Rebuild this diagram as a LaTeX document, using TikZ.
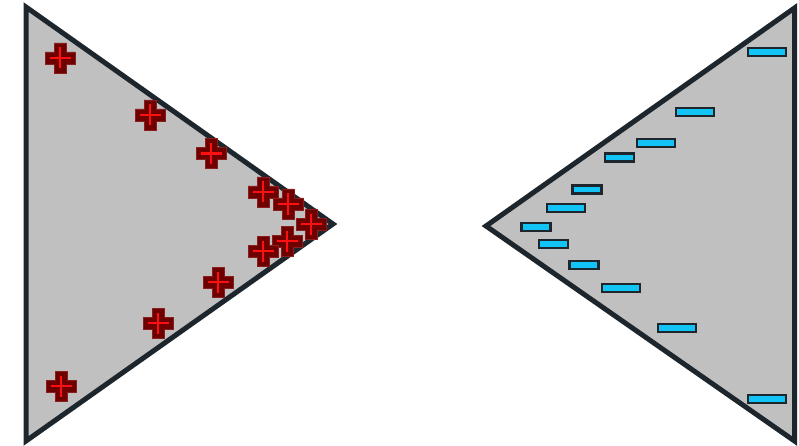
\documentclass[tikz,border=0pt]{standalone}
\usetikzlibrary{calc}
\definecolor{edgedark}{HTML}{1E262D}
\definecolor{trifill}{HTML}{C0C0C0}
\definecolor{crossfill}{HTML}{6E0000}
\definecolor{crossedge}{HTML}{8A1E1E}
\definecolor{crossline}{HTML}{FF1010}
\definecolor{barfill}{HTML}{12C3F5}
\tikzset{
  tri/.style={draw=edgedark, fill=trifill, line width=5pt, line join=miter},
  pics/crossmark/.style={code={
    \fill[crossfill, draw=crossedge, line width=0.8pt]
      (-6,15) -- (6,15) -- (6,6) -- (15,6) -- (15,-6) -- (6,-6) -- (6,-15)
      -- (-6,-15) -- (-6,-6) -- (-15,-6) -- (-15,6) -- (-6,6) -- cycle;
    \draw[crossline, line width=2.4pt] (-10.5,0) -- (10.5,0) (0,-10.5) -- (0,10.5);
  }},
  pics/bigbar/.style={code={
    \draw[fill=barfill, draw=edgedark, line width=2.4pt] (-19,-4) rectangle (19,4);
  }},
  pics/smallbar/.style={code={
    \draw[fill=barfill, draw=edgedark, line width=2.4pt] (-14.5,-4) rectangle (14.5,4);
  }}
}
\begin{document}
\begin{tikzpicture}[x=1pt,y=-1pt]
\useasboundingbox (0,0) rectangle (799,446);
% left triangle
\draw[tri] (26,7) -- (26,441) -- (333,224) -- cycle;
% right triangle
\draw[tri] (794.5,8) -- (794.5,441) -- (486,226) -- cycle;
% crosses
\foreach \cx/\cy in {60/58, 150/115, 211/153.5, 263/192, 288/204, 311/224,
                     287/241, 263/251, 218/282, 158/323, 61/386}
  \pic at (\cx,\cy) {crossmark};
% big bars
\foreach \bx/\by in {767/52, 695/112, 656/143, 566/208, 621/288, 677/328, 767/399}
  \pic at (\bx,\by) {bigbar};
% small bars
\foreach \bx/\by in {619.5/157.5, 587/189.5, 536/227, 553.5/244, 584/265}
  \pic at (\bx,\by) {smallbar};
\end{tikzpicture}
\end{document}
